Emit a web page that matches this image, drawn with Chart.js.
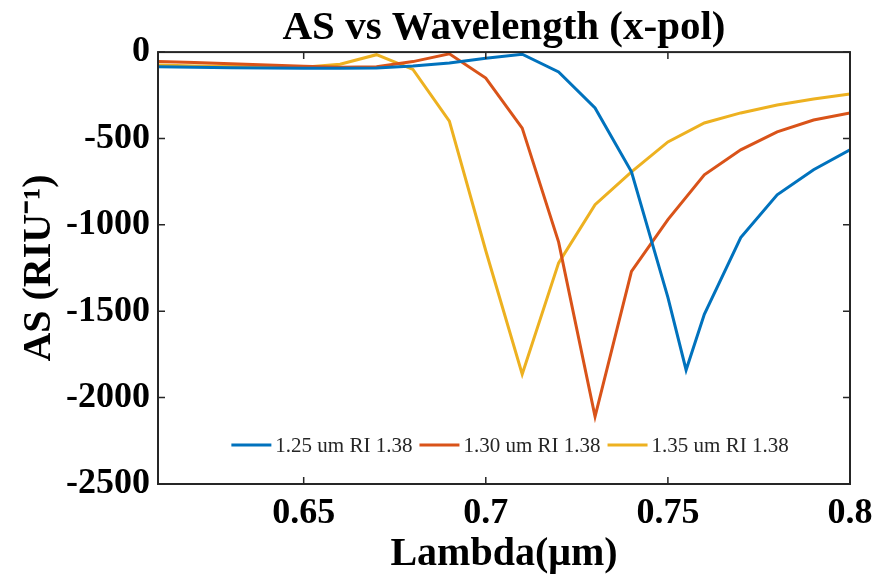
<!DOCTYPE html>
<html>
<head>
<meta charset="utf-8">
<script src="https://cdn.jsdelivr.net/npm/chart.js@4.4.0/dist/chart.umd.min.js"></script>
<style>
  body { margin: 0; background: #fff; }
  canvas { display: block; }
</style>
</head>
<body>
<canvas id="myChart" width="876" height="583"></canvas>
<script>
// data
const lambdaBlue = [0.61, 0.62, 0.63, 0.64, 0.65, 0.66, 0.67, 0.68, 0.69, 0.70, 0.71, 0.72, 0.73, 0.74, 0.75, 0.755, 0.76, 0.77, 0.78, 0.79, 0.80];
const asBlue = [-85, -88, -90, -92, -93, -93, -92, -80, -63, -35, -12, -115, -323, -693, -1420, -1840, -1518, -1074, -826, -681, -566];

const lambda = [0.61, 0.62, 0.63, 0.64, 0.65, 0.66, 0.67, 0.68, 0.69, 0.70, 0.71, 0.72, 0.73, 0.74, 0.75, 0.76, 0.77, 0.78, 0.79, 0.80];
const asOrange = [-55, -60, -68, -75, -82, -88, -85, -55, -10, -150, -440, -1100, -2110, -1270, -970, -710, -566, -462, -393, -352];
const asYellow = [-75, -80, -82, -85, -88, -70, -15, -100, -400, -1150, -1865, -1220, -883, -693, -520, -410, -352, -306, -271, -242];

const seriesNames = ['1.25 um RI 1.38', '1.30 um RI 1.38', '1.35 um RI 1.38'];

const xTicks = [0.65, 0.7, 0.75, 0.8];
const xTickLabels = ['0.65', '0.7', '0.75', '0.8'];
const yTicks = [-2500, -2000, -1500, -1000, -500, 0];
const yTickLabels = ['-2500', '-2000', '-1500', '-1000', '-500', '0'];

function pts(xs, ys) {
  return xs.map((x, i) => ({ x: x, y: ys[i] }));
}

const axisColor = '#262626';
const serif = '"Liberation Serif", "Times New Roman", serif';

// move title over the plot area, MATLAB style
const titleShift = {
  id: 'titleShift',
  afterLayout(chart) {
    if (chart.titleBlock) {
      chart.titleBlock.left = chart.chartArea.left;
      chart.titleBlock.right = chart.chartArea.right;
    }
  }
};

// box + inward ticks on all four sides, legend inside the plot
const boxAndLegend = {
  id: 'boxAndLegend',
  afterDraw(chart) {
    const c = chart.ctx;
    const a = chart.chartArea;
    const xs = chart.scales.x, ys = chart.scales.y;
    c.save();
    c.strokeStyle = axisColor;
    c.lineWidth = 2;
    c.strokeRect(a.left, a.top, a.right - a.left, a.bottom - a.top);
    c.lineWidth = 1.5;
    const tl = 7;
    c.beginPath();
    xTicks.forEach(v => {
      const px = xs.getPixelForValue(v);
      c.moveTo(px, a.bottom); c.lineTo(px, a.bottom - tl);
      c.moveTo(px, a.top); c.lineTo(px, a.top + tl);
    });
    yTicks.forEach(v => {
      const py = ys.getPixelForValue(v);
      c.moveTo(a.left, py); c.lineTo(a.left + tl, py);
      c.moveTo(a.right, py); c.lineTo(a.right - tl, py);
    });
    c.stroke();

    // legend
    c.font = '21px ' + serif;
    c.textBaseline = 'middle';
    const lineLen = 40, gap = 4, spacing = 7;
    const ds = chart.data.datasets;
    let total = 0;
    ds.forEach(d => { total += lineLen + gap + c.measureText(d.label).width + spacing; });
    total -= spacing;
    let x = (a.left + a.right) / 2 - total / 2 + 6;
    const y = 445;
    ds.forEach(d => {
      c.strokeStyle = d.borderColor;
      c.lineWidth = 3;
      c.beginPath();
      c.moveTo(x, y); c.lineTo(x + lineLen, y);
      c.stroke();
      x += lineLen + gap;
      c.fillStyle = axisColor;
      c.fillText(d.label, x, y + 1);
      x += c.measureText(d.label).width + spacing;
    });
    c.restore();
  }
};

const ctx = document.getElementById('myChart');

new Chart(ctx, {
  type: 'line',
  data: {
    datasets: [
      { label: seriesNames[0], data: pts(lambdaBlue, asBlue), borderColor: '#0072BD' },
      { label: seriesNames[1], data: pts(lambda, asOrange), borderColor: '#D95319' },
      { label: seriesNames[2], data: pts(lambda, asYellow), borderColor: '#EDB120' }
    ]
  },
  options: {
    responsive: false,
    animation: false,
    elements: {
      line: { borderWidth: 3, tension: 0, fill: false },
      point: { radius: 0 }
    },
    layout: { padding: { left: 16, right: 26, top: 0, bottom: 0 } },
    plugins: {
      legend: { display: false },
      tooltip: { enabled: false },
      title: {
        display: true,
        text: 'AS vs Wavelength (x-pol)',
        color: '#000',
        font: { family: serif, size: 41, weight: 'bold', lineHeight: 1.1 },
        padding: { top: 6, bottom: 1 }
      }
    },
    scales: {
      x: {
        type: 'linear',
        min: 0.61,
        max: 0.8,
        afterBuildTicks: s => { s.ticks = xTicks.map(v => ({ value: v })); },
        afterFit: s => { s.height = 99; },
        grid: { display: false },
        border: { display: false },
        ticks: {
          color: '#000',
          padding: 0,
          maxRotation: 0,
          font: { family: serif, size: 36, weight: 'bold' },
          callback: (v) => xTickLabels[xTicks.indexOf(v)]
        },
        title: {
          display: true,
          text: 'Lambda(μm)',
          color: '#000',
          padding: { top: 0, bottom: 4 },
          font: { family: serif, size: 40, weight: 'bold' }
        }
      },
      y: {
        min: -2500,
        max: 0,
        afterBuildTicks: s => { s.ticks = yTicks.map(v => ({ value: v })); },
        afterFit: s => { s.width = 142; },
        grid: { display: false },
        border: { display: false },
        ticks: {
          color: '#000',
          padding: 0,
          font: { family: serif, size: 36, weight: 'bold' },
          callback: (v) => yTickLabels[yTicks.indexOf(v)]
        },
        title: {
          display: true,
          text: 'AS (RIU⁻¹)',
          color: '#000',
          padding: { top: 0, bottom: 0 },
          font: { family: serif, size: 40, weight: 'bold' }
        }
      }
    }
  },
  plugins: [titleShift, boxAndLegend]
});
</script>
</body>
</html>
